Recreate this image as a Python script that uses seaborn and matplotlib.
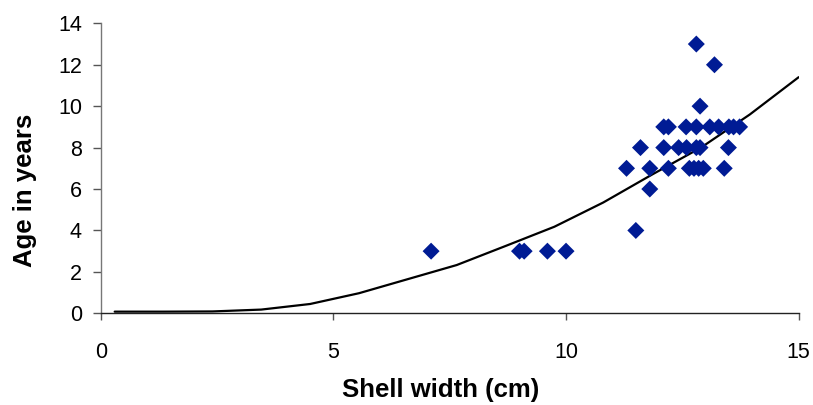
import numpy as np
import pandas as pd
import matplotlib
matplotlib.use("Agg")
import matplotlib.pyplot as plt
import seaborn as sns

# observed shells: width (cm) and age (years)
width = [7.1, 9.0, 9.1, 9.6, 10.0, 11.5,
         11.3, 11.8, 12.2, 12.65, 12.75, 12.85, 12.95, 13.4,
         11.8,
         11.6, 12.1, 12.42, 12.59, 12.8, 12.88, 13.49,
         12.1, 12.2, 12.58, 12.8, 13.09, 13.28, 13.5, 13.6, 13.73,
         12.88, 13.19, 12.8]
age = [3, 3, 3, 3, 3, 4,
       7, 7, 7, 7, 7, 7, 7, 7,
       6,
       8, 8, 8, 8, 8, 8, 8,
       9, 9, 9, 9, 9, 9, 9, 9, 9,
       10, 12, 13]

# fitted growth curve
fit_x = [0.3, 1.35, 2.4, 3.45, 4.5, 5.55, 6.6, 7.65, 8.7, 9.75, 10.8, 11.85, 12.9, 13.95, 15.0]
fit_y = [0.08, 0.08, 0.09, 0.18, 0.45, 0.97, 1.65, 2.33, 3.25, 4.18, 5.35, 6.7, 8.0, 9.6, 11.4]

pts = pd.DataFrame({"width": width, "age": age})
fit = pd.DataFrame({"x": fit_x, "y": fit_y})

sns.set_style("white")
plt.rcParams['font.family'] = ['Liberation Sans', 'DejaVu Sans']
plt.rcParams['text.color'] = 'black'
plt.rcParams['axes.labelcolor'] = 'black'
plt.rcParams['xtick.labelcolor'] = 'black'
plt.rcParams['ytick.labelcolor'] = 'black'

fig = plt.figure(figsize=(8.13, 4.05), dpi=100)
ax = fig.add_axes([0.1239, 0.2264, 0.8585, 0.716])

sns.lineplot(data=fit, x="x", y="y", color="black", linewidth=1.6, ax=ax, sort=False)
sns.scatterplot(data=pts, x="width", y="age", marker="D", s=75, color="#001b94",
                edgecolor="none", ax=ax, zorder=3)

ax.set_xlim(0, 15)
ax.set_ylim(0, 14)
ax.set_xticks([0, 5, 10, 15])
ax.set_yticks(range(0, 15, 2))
ax.set_xlabel("Shell width (cm)", fontsize=18.5, fontweight="bold")
ax.set_ylabel("Age in years", fontsize=18.5, fontweight="bold")
ax.xaxis.set_label_coords(0.4875, -0.222)
ax.yaxis.set_label_coords(-0.092, 0.425)
ax.tick_params(axis="both", labelsize=15.5, width=1, color="#555555",
               direction="out", bottom=True, left=True)
ax.tick_params(axis="x", length=5.3, pad=15)
ax.tick_params(axis="y", length=5.5, pad=8)
for s in ["top", "right"]:
    ax.spines[s].set_visible(False)
ax.spines["left"].set_color("#777777")
ax.spines["bottom"].set_color("#222222")
for s in ["left", "bottom"]:
    ax.spines[s].set_linewidth(1)

fig.savefig("out.png", dpi=100)
